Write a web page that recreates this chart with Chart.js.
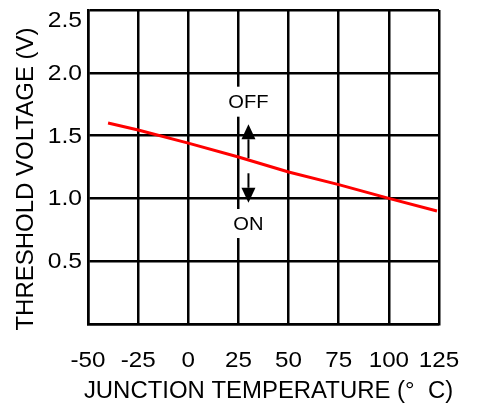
<!DOCTYPE html>
<html>
<head>
<meta charset="utf-8">
<script src="https://cdn.jsdelivr.net/npm/chart.js@4"></script>
<style>
  html, body { margin: 0; padding: 0; background: #fff; }
  #c { display: block; }
</style>
</head>
<body>
<canvas id="c" width="477" height="413"></canvas>
<script>
// ---- data ----
const temperatures = [-40, -25, 0, 25, 50, 75, 100, 124];
const thresholdVoltage = [1.60, 1.545, 1.44, 1.33, 1.21, 1.11, 1.00, 0.90];
const xTickValues = [-50, -25, 0, 25, 50, 75, 100, 125];
const xTickLabels = ['-50', '-25', '0', '25', '50', '75', '100', '125'];
const yTickValues = [0.5, 1.0, 1.5, 2.0, 2.5];
const yTickLabels = ['0.5', '1.0', '1.5', '2.0', '2.5'];
const xTitle = 'JUNCTION TEMPERATURE (\u00B0  C)';
const yTitle = 'THRESHOLD VOLTAGE (V)';
// annotation: OFF / ON arrows near 25 °C
const annotX = 30;
const annotTextX = 30;
const offLabel = { text: 'OFF', y: 1.77 };
const onLabel = { text: 'ON', y: 0.80 };
const upArrow = [1.32, 1.59];    // tail, tip
const downArrow = [1.20, 0.965]; // tail, tip
const gapLineX = 25;

const FONT = '"Liberation Sans", Arial, Helvetica, sans-serif';

function drawText(ctx, txt, x, y, size, align, rot, stretch) {
  ctx.save();
  ctx.translate(x, y);
  if (rot) ctx.rotate(rot);
  ctx.scale(stretch || 1, 1);
  ctx.font = size + 'px ' + FONT;
  ctx.fillStyle = '#000';
  ctx.textAlign = align || 'center';
  ctx.textBaseline = 'middle';
  ctx.fillText(txt, 0, 0);
  ctx.restore();
}

const textPlugin = {
  id: 'textPlugin',
  afterDatasetsDraw(chart) {
    const ctx = chart.ctx;
    const xs = chart.scales.x, ys = chart.scales.y;
    const area = chart.chartArea;

    // OFF / ON labels with white background interrupting the 25 °C grid line
    const ax = xs.getPixelForValue(annotTextX);
    [[offLabel, 30], [onLabel, 29]].forEach(([lab, h]) => {
      const py = ys.getPixelForValue(lab.y);
      const gx = xs.getPixelForValue(gapLineX);
      ctx.save();
      ctx.fillStyle = '#fff';
      ctx.fillRect(gx - 3, py - h / 2, 6, h);
      ctx.restore();
      drawText(ctx, lab.text, ax, py + 1, 19, 'center', 0, 1.06);
    });

    // arrows
    const arx = xs.getPixelForValue(annotX);
    function arrow(v0, v1) {
      const y0 = ys.getPixelForValue(v0), y1 = ys.getPixelForValue(v1);
      const dir = y1 > y0 ? 1 : -1;
      const headLen = 15, headHalf = 7;
      ctx.save();
      ctx.strokeStyle = '#000';
      ctx.fillStyle = '#000';
      ctx.lineWidth = 2;
      ctx.beginPath();
      ctx.moveTo(arx, y0);
      ctx.lineTo(arx, y1 - dir * headLen);
      ctx.stroke();
      ctx.beginPath();
      ctx.moveTo(arx, y1);
      ctx.lineTo(arx - headHalf, y1 - dir * headLen);
      ctx.lineTo(arx + headHalf, y1 - dir * headLen);
      ctx.closePath();
      ctx.fill();
      ctx.restore();
    }
    arrow(upArrow[0], upArrow[1]);
    arrow(downArrow[0], downArrow[1]);

    // y tick labels
    yTickValues.forEach((v, i) => {
      let py = ys.getPixelForValue(v);
      py = Math.max(py, area.top + 10);
      drawText(ctx, yTickLabels[i], area.left - 6, py + 1, 22, 'right', 0, 1.12);
    });
    // x tick labels
    xTickValues.forEach((v, i) => {
      const px = xs.getPixelForValue(v);
      drawText(ctx, xTickLabels[i], px, area.bottom + 37, 22, 'center', 0, 1.1);
    });
    // axis titles
    drawText(ctx, xTitle, (area.left + area.right) / 2 + 5, area.bottom + 68, 23, 'center', 0, 1.04);
    drawText(ctx, yTitle, 26, (area.top + area.bottom) / 2 + 12, 24, 'center', -Math.PI / 2, 1);
  }
};

new Chart(document.getElementById('c'), {
  type: 'line',
  data: {
    datasets: [{
      data: temperatures.map((t, i) => ({ x: t, y: thresholdVoltage[i] })),
      borderColor: '#ff0000',
      borderWidth: 3,
      pointRadius: 0,
      tension: 0,
      fill: false
    }]
  },
  options: {
    responsive: false,
    devicePixelRatio: 1,
    animation: false,
    layout: { padding: { left: 88, right: 38, top: 10, bottom: 89 } },
    plugins: { legend: { display: false }, tooltip: { enabled: false } },
    scales: {
      x: {
        type: 'linear', min: -50, max: 125,
        ticks: { display: false, stepSize: 25 },
        grid: { color: '#000', lineWidth: 2.5, drawTicks: false },
        border: { display: true, color: '#000', width: 2.5 }
      },
      y: {
        type: 'linear', min: 0, max: 2.5,
        ticks: { display: false, stepSize: 0.5 },
        grid: { color: '#000', lineWidth: 2.5, drawTicks: false },
        border: { display: true, color: '#000', width: 2.5 }
      }
    }
  },
  plugins: [textPlugin]
});
</script>
</body>
</html>
